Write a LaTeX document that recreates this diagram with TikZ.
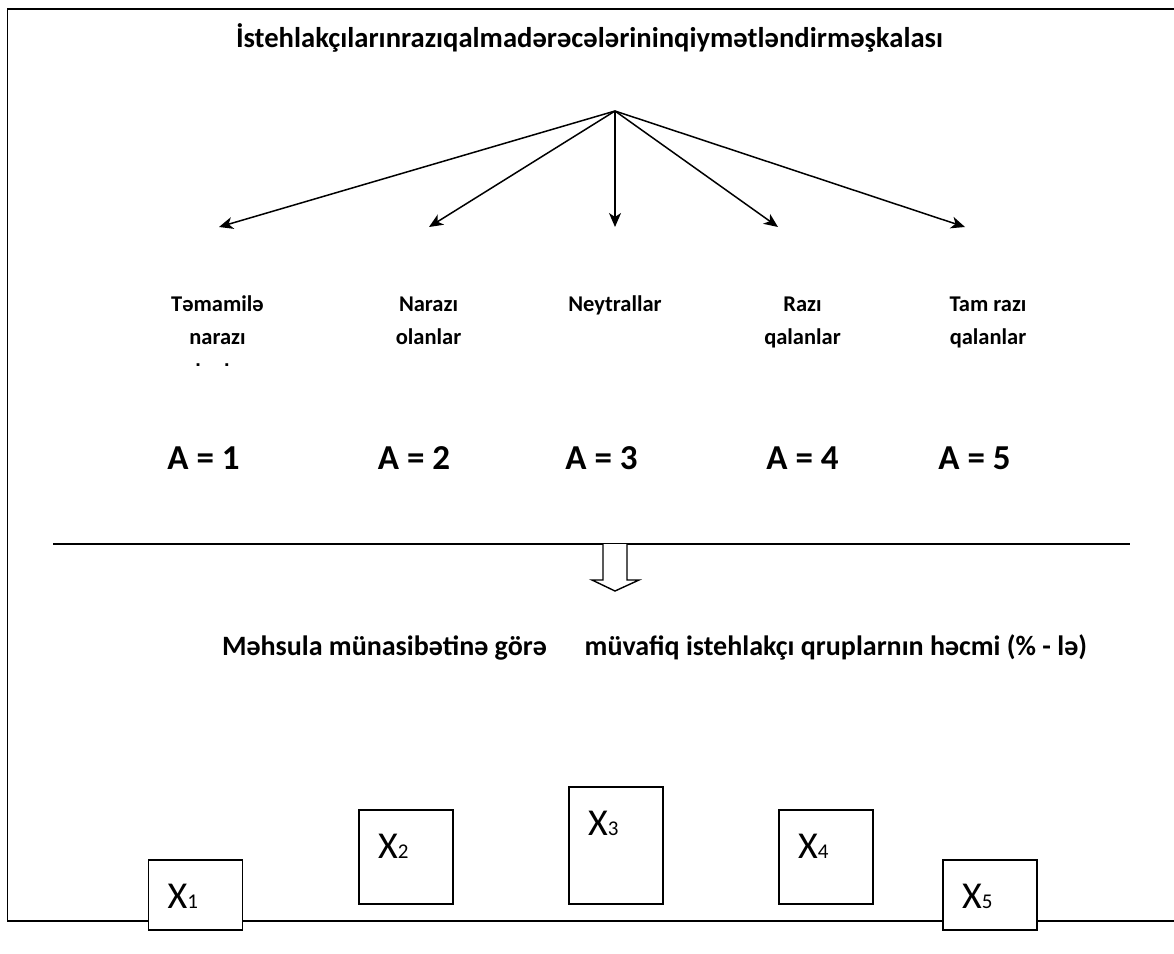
\documentclass[tikz,border=0pt]{standalone}
\usepackage{fontspec}
\setmainfont{Carlito}
\usetikzlibrary{arrows.meta,calc}
\newlength\fitw
\newcommand\fittext[3]{%
  \settowidth\fitw{\fontsize{10pt}{12pt}\selectfont#1#3}%
  \pgfmathsetmacro\fitsz{10*#2/\fitw}%
  \pgfmathsetmacro\fitbs{12*#2/\fitw}%
  {\fontsize{\fitsz pt}{\fitbs pt}\selectfont#1#3}}
\begin{document}
\begin{tikzpicture}[x=1pt,y=-1pt,
  frame/.style={line width=1.8pt},
  fan/.style={line width=1.5pt,-{Stealth[length=14pt,width=12pt,inset=4pt]}},
  lbl/.style={font=\fontsize{22.5}{27}\selectfont\bfseries, anchor=base, inner sep=0},
  aval/.style={font=\fontsize{35}{40}\selectfont\bfseries, anchor=base, inner sep=0},
  xbox/.style={draw, line width=1.5pt, fill=white, anchor=north west, minimum width=94pt, inner sep=0},
  xlab/.style={font=\fontsize{38}{40}\selectfont, anchor=base west, inner sep=0}]
\useasboundingbox (0,0) rectangle (1174,953);
% frame
\draw[frame] (1174,9) -- (7.5,9) -- (7.5,921) -- (1174,921);
% title
\node[anchor=base, inner sep=0] (title) at (589.5,47)
  {\fittext{\bfseries}{707}{İstehlakçılarınrazıqalmadərəcələrininqiymətləndirməşkalası}};
% fan of arrows
\coordinate (apex) at (615,111);
\coordinate (t1) at (219,227);
\coordinate (t2) at (429,227);
\coordinate (t3) at (615,227);
\coordinate (t4) at (778,227);
\coordinate (t5) at (965,227);
\foreach \i in {1,...,5} \draw[fan] (apex) -- (t\i);
% category labels
\node[lbl] (l1a) at (217.5,311.5) {Təmamilə};
\node[lbl] (l1b) at (217.5,344) {narazı};
\begin{scope}
  \clip (100,340) rectangle (330,365.5);
  \node[lbl] (l1c) at (216,379) {olanlar};
\end{scope}
\node[lbl] (l2a) at (428.5,311.5) {Narazı};
\node[lbl] (l2b) at (428.5,344) {olanlar};
\node[lbl] (l3a) at (615,311.5) {Neytrallar};
\node[lbl] (l4a) at (802.5,311.5) {Razı};
\node[lbl] (l4b) at (802.5,344) {qalanlar};
\node[lbl] (l5a) at (988,311.5) {Tam razı};
\node[lbl] (l5b) at (988,344) {qalanlar};
% A values
\node[aval] (a1) at (203.5,469.5) {A = 1};
\node[aval] (a2) at (414,469.5) {A = 2};
\node[aval] (a3) at (601.5,469.5) {A = 3};
\node[aval] (a4) at (802.5,469.5) {A = 4};
\node[aval] (a5) at (974.5,469.5) {A = 5};
% separator and hollow arrow
\coordinate (sepl) at (53,544);
\coordinate (sepr) at (1130,544);
\draw[line width=1.6pt] (sepl) -- (sepr);
\draw[line width=1.4pt, fill=white, line join=miter]
  (603,544) -- (603,580) -- (592,580) -- (615,591) -- (639,580) -- (627,580) -- (627,544);
% subtitle
\node[anchor=base, inner sep=0] (sub) at (654.5,655)
  {\fittext{\bfseries}{865}{Məhsula münasibətinə görə\hspace{1.35em}müvafiq istehlakçı qruplarnın həcmi (\% - lə)}};
% boxes
\node[xbox, minimum height=70pt] (x1) at (147.5,859) {};
\node[xbox, minimum height=94pt] (x2) at (358,809) {};
\node[xbox, minimum height=117pt] (x3) at (568,786) {};
\node[xbox, minimum height=94pt] (x4) at (778,809) {};
\node[xbox, minimum height=70pt] (x5) at (942,859) {};
\foreach \i in {1,...,5}
  \node[xlab] (xl\i) at ($(x\i.north west)+(20,49.5)$) {X{\fontsize{21}{24}\selectfont\i}};
\end{tikzpicture}
\end{document}
